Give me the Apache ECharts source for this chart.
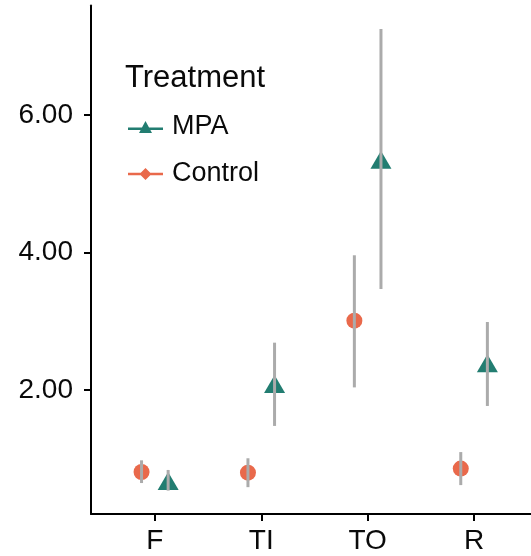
<!DOCTYPE html>
<html><head><meta charset="utf-8">
<script src="https://cdn.jsdelivr.net/npm/echarts@6/dist/echarts.min.js"></script>
<style>html,body{margin:0;padding:0;background:#fff}#c{width:531px;height:556px}</style>
</head><body><div id="c"></div>
<script>
const categories = ['F', 'TI', 'TO', 'R'];
const mpaMean = [0.68, 2.09, 5.35, 2.39];
const mpaLow = [0.54, 1.48, 3.47, 1.77];
const mpaHigh = [0.84, 2.69, 7.25, 2.99];
const ctrlMean = [0.81, 0.80, 3.01, 0.86];
const ctrlLow = [0.65, 0.59, 2.04, 0.62];
const ctrlHigh = [0.98, 1.01, 3.96, 1.10];
const yTicks = [2, 4, 6];
const xTicks = [1, 2, 3, 4];

const dodge = 0.125;
const MPA_COLOR = '#227D71';
const CTRL_COLOR = '#E9694B';
const ERR_COLOR = '#ABABAB';
const FONT = 'Liberation Sans, Arial, sans-serif';

const mpaPts = categories.map((c, i) => [i + 1 + dodge, mpaMean[i]]);
const ctrlPts = categories.map((c, i) => [i + 1 - dodge, ctrlMean[i]]);
const errData = [];
categories.forEach((c, i) => {
  errData.push([i + 1 - dodge, ctrlLow[i], ctrlHigh[i]]);
  errData.push([i + 1 + dodge, mpaLow[i], mpaHigh[i]]);
});

const chart = echarts.init(document.getElementById('c'), null, {renderer: 'canvas'});
chart.setOption({
  animation: false,
  backgroundColor: '#fff',
  title: {
    text: 'Treatment', left: 125, top: 63, padding: 0,
    textStyle: {fontFamily: FONT, fontSize: 31, fontWeight: 'normal', color: '#0a0a0a'}
  },
  legend: {
    orient: 'vertical', left: 128, top: 113, padding: 0,
    itemWidth: 35, itemHeight: 12, itemGap: 19,
    textStyle: {fontFamily: FONT, fontSize: 27, color: '#0a0a0a', lineHeight: 28, padding: [0, 0, 0, 4]},
    data: [
      {name: 'MPA', icon: 'path://M0,6.5 L35,6.5 L35,9 L0,9 Z M11,12 L17.5,0 L24,12 Z'},
      {name: 'Control', icon: 'path://M0,4.8 L35,4.8 L35,7.2 L0,7.2 Z M11.5,6 L17.5,0 L23.5,6 L17.5,12 Z'}
    ]
  },
  grid: {left: 91, right: 0, top: 5.5, bottom: 42, containLabel: false},
  xAxis: {
    type: 'value', min: 0.4, max: 4.535,
    splitLine: {show: false},
    axisLine: {show: true, lineStyle: {color: '#000', width: 2}},
    axisTick: {show: true, customValues: xTicks, length: 7, lineStyle: {color: '#000', width: 2}},
    axisLabel: {
      customValues: xTicks, margin: 13,
      formatter: v => categories[Math.round(v) - 1] || '',
      fontFamily: FONT, fontSize: 28, color: '#0a0a0a'
    }
  },
  yAxis: {
    type: 'value', min: 0.2, max: 7.59,
    splitLine: {show: false},
    axisLine: {show: true, lineStyle: {color: '#000', width: 2}},
    axisTick: {show: true, customValues: yTicks, length: 7, lineStyle: {color: '#000', width: 2}},
    axisLabel: {
      customValues: yTicks, margin: 18,
      formatter: v => Number(v).toFixed(2),
      fontFamily: FONT, fontSize: 28, color: '#0a0a0a'
    }
  },
  series: [
    {
      name: 'MPA', type: 'scatter', data: mpaPts,
      symbol: 'triangle', symbolSize: [21, 18],
      itemStyle: {color: MPA_COLOR, opacity: 1}, z: 2
    },
    {
      name: 'Control', type: 'scatter', data: ctrlPts,
      symbol: 'circle', symbolSize: 16,
      itemStyle: {color: CTRL_COLOR, opacity: 1}, z: 2
    },
    {
      name: 'err', type: 'custom', data: errData, z: 3,
      renderItem: (params, api) => {
        const x = api.value(0);
        const p1 = api.coord([x, api.value(1)]);
        const p2 = api.coord([x, api.value(2)]);
        return {
          type: 'line',
          shape: {x1: p1[0], y1: p1[1], x2: p2[0], y2: p2[1]},
          style: {stroke: ERR_COLOR, lineWidth: 3}
        };
      }
    }
  ]
});
</script></body></html>
